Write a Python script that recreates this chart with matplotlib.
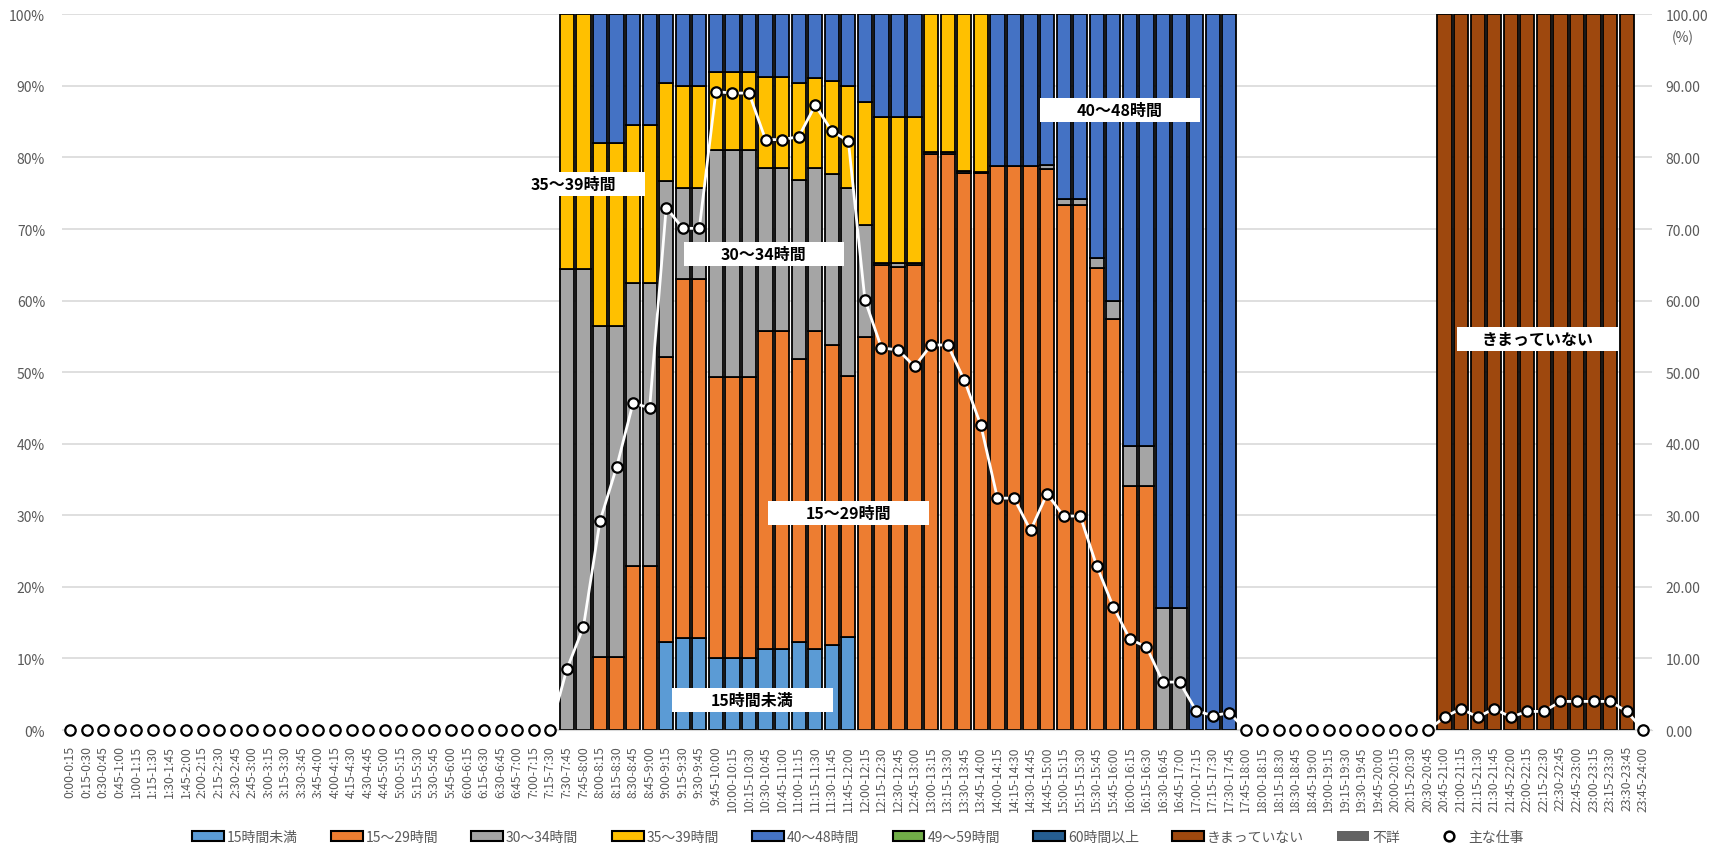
"""
Stacked 100% bars of weekly working-hours by time slot, with the share of
people doing their main job on the secondary axis.
"""

import matplotlib.pyplot as plt
import numpy as np
from matplotlib.lines import Line2D
from matplotlib.patches import Patch, Rectangle

plt.rcParams["font.family"] = ["Noto Sans CJK JP", "DejaVu Sans"]

# ---------------------------------------------------------------------------
# Data
# ---------------------------------------------------------------------------

slots = [f"{m // 60}:{m % 60:02d}-{(m + 15) // 60}:{(m + 15) % 60:02d}"
         for m in range(0, 24 * 60, 15)]

day_first = "7:30-7:45"      # first slot of the daytime block (41 slots)
night_first = "20:45-21:00"  # first slot of the night block (12 slots)

# daytime block, 7:30-7:45 ... 17:30-17:45 (%)
under15 = [0, 0, 0, 0, 0, 0, 12.3, 12.8, 12.8, 10.0, 10.0, 10.0, 11.3, 11.3,
           12.3, 11.3, 11.9, 13.0, 0, 0, 0, 0, 0, 0, 0, 0, 0, 0, 0, 0, 0, 0,
           0, 0, 0, 0, 0, 0, 0, 0, 0]
h15_29 = [0, 0, 10.2, 10.2, 22.9, 22.9, 39.8, 50.2, 50.2, 39.3, 39.3, 39.3,
          44.5, 44.5, 39.5, 44.5, 41.9, 36.4, 54.9, 65.0, 64.7, 65.0, 80.5,
          80.5, 77.8, 77.9, 78.8, 78.8, 78.8, 78.4, 73.4, 73.4, 64.6, 57.4,
          34.1, 34.1, 0, 0, 0, 0, 0]
h30_34 = [64.4, 64.4, 46.2, 46.2, 39.6, 39.6, 24.6, 12.8, 12.8, 31.7, 31.7,
          31.7, 22.8, 22.8, 25.0, 22.8, 23.9, 26.3, 15.6, 0.3, 0.6, 0.3, 0.3,
          0.3, 0.3, 0.1, 0, 0, 0, 0.6, 0.8, 0.8, 1.4, 2.5, 5.6, 5.6, 17.0,
          17.0, 0, 0, 0]
h35_39 = [35.6, 35.6, 25.6, 25.6, 22.0, 22.0, 13.7, 14.2, 14.2, 11.0, 11.0,
          11.0, 12.6, 12.6, 13.6, 12.5, 13.0, 14.3, 17.2, 20.3, 20.3, 20.3,
          19.2, 19.2, 21.9, 22.0, 0, 0, 0, 0, 0, 0, 0, 0, 0, 0, 0, 0, 0, 0, 0]
h40_48 = [0, 0, 18.0, 18.0, 15.5, 15.5, 9.6, 10.0, 10.0, 8.0, 8.0, 8.0, 8.8,
          8.8, 9.6, 8.9, 9.3, 10.0, 12.3, 14.4, 14.4, 14.4, 0, 0, 0, 0, 21.2,
          21.2, 21.2, 21.0, 25.8, 25.8, 34.0, 40.1, 60.3, 60.3, 83.0, 83.0,
          100, 100, 100]

# night block, 20:45-21:00 ... 23:30-23:45 (%)
undecided = [100, 100, 100, 100, 100, 100, 100, 100, 100, 100, 100, 100]

# main job, all 96 slots (%)
main_job = ([0] * 30 +
            [8.5, 14.4, 29.2, 36.7, 45.7, 45.0, 73.0, 70.1, 70.1, 89.2, 89.0,
             89.0, 82.5, 82.5, 82.9, 87.3, 83.7, 82.3, 60.1, 53.4, 53.1, 50.8,
             53.8, 53.8, 48.9, 42.6, 32.4, 32.4, 27.9, 33.0, 29.9, 29.9, 22.9,
             17.2, 12.7, 11.6, 6.7, 6.7, 2.7, 2.0, 2.4] +
            [0] * 12 +
            [1.8, 3.0, 1.8, 3.0, 1.8, 2.6, 2.6, 4.0, 4.0, 4.0, 4.0, 2.6, 0])

names = ["15時間未満", "15～29時間", "30～34時間", "35～39時間", "40～48時間",
         "49～59時間", "60時間以上", "きまっていない", "不詳"]
colors = ["#5B9BD5", "#ED7D31", "#A5A5A5", "#FFC000", "#4472C4",
          "#70AD47", "#255E91", "#9E480E", "#636363"]


def place(values, first):
    full = np.zeros(len(slots))
    i = slots.index(first)
    full[i:i + len(values)] = values
    return full


stack = [
    place(under15, day_first),
    place(h15_29, day_first),
    place(h30_34, day_first),
    place(h35_39, day_first),
    place(h40_48, day_first),
    np.zeros(len(slots)),
    np.zeros(len(slots)),
    place(undecided, night_first),
    np.zeros(len(slots)),
]

# ---------------------------------------------------------------------------
# Plot
# ---------------------------------------------------------------------------

GRAY_TEXT = "#595959"

fig = plt.figure(figsize=(17.15, 8.53), dpi=100)
ax = fig.add_axes([0.036, 0.143, 0.927, 0.839])
x = np.arange(len(slots))

bottom = np.zeros(len(slots))
for vals, color in zip(stack, colors):
    on = vals > 0
    ax.bar(x[on], vals[on], 0.86, bottom=bottom[on], color=color,
           edgecolor="black", linewidth=1.3, zorder=2)
    bottom += vals

ax.set_xlim(-0.5, len(slots) - 0.5)
ax.set_ylim(0, 100)
ax.set_yticks(range(0, 101, 10))
ax.set_yticklabels([f"{v}%" for v in range(0, 101, 10)])
ax.set_xticks(x)
ax.set_xticklabels(slots, rotation=90, fontsize=8.8)
ax.grid(axis="y", color="#D9D9D9", linewidth=1.2, zorder=0)
ax.set_axisbelow(True)
for side in ("left", "right", "top"):
    ax.spines[side].set_visible(False)
ax.spines["bottom"].set_color("#D9D9D9")
ax.tick_params(axis="both", length=0, labelcolor=GRAY_TEXT)
ax.tick_params(axis="y", labelsize=10, pad=12)
ax.tick_params(axis="x", pad=11)

ax2 = ax.twinx()
ax2.set_ylim(0, 100)
ax2.set_yticks(range(0, 101, 10))
ax2.set_yticklabels([f"{v:.2f}" for v in range(0, 101, 10)])
for side in ax2.spines:
    ax2.spines[side].set_visible(False)
ax2.tick_params(axis="y", length=0, labelcolor=GRAY_TEXT, labelsize=10, pad=10)
ax2.plot(x, main_job, color="white", linewidth=2, marker="o", markersize=7.5,
         markerfacecolor="white", markeredgecolor="black", markeredgewidth=1.6,
         zorder=3, clip_on=False)
fig.text(1683 / 1715, 1 - 38 / 853, "(%)", ha="center", va="center",
         fontsize=10, color=GRAY_TEXT)

# category labels in white boxes
labels = [
    ("35～39時間", 30.4, 76.3, 8.6),
    ("30～34時間", 41.9, 66.5, 9.7),
    ("15時間未満", 41.2, 4.2, 9.7),
    ("15～29時間", 47.0, 30.3, 9.7),
    ("40～48時間", 63.4, 86.6, 9.7),
    ("きまっていない", 88.6, 54.6, 9.7),
]
for text, cx, cy, w in labels:
    ax.add_patch(Rectangle((cx - w / 2, cy - 1.7), w, 3.4, facecolor="white",
                           edgecolor="none", zorder=5))
    ax.text(cx, cy, text, ha="center", va="center", fontsize=11.5,
            fontweight="bold", color="black", zorder=6)

handles = [Patch(facecolor=c, edgecolor="black", linewidth=1.5) for c in colors[:-1]]
handles.append(Patch(facecolor=colors[-1], edgecolor="none"))
handles.append(Line2D([], [], linestyle="none", marker="o", markersize=7,
                      markerfacecolor="white", markeredgecolor="black",
                      markeredgewidth=1.8))
fig.legend(handles, names + ["主な仕事"], loc="center",
           bbox_to_anchor=(0.5, 0.018), ncol=10, frameon=False, fontsize=10,
           labelcolor=GRAY_TEXT, handlelength=2.3, handleheight=0.7,
           handletextpad=0.2, columnspacing=2.4)

fig.savefig("out.png", dpi=100)
